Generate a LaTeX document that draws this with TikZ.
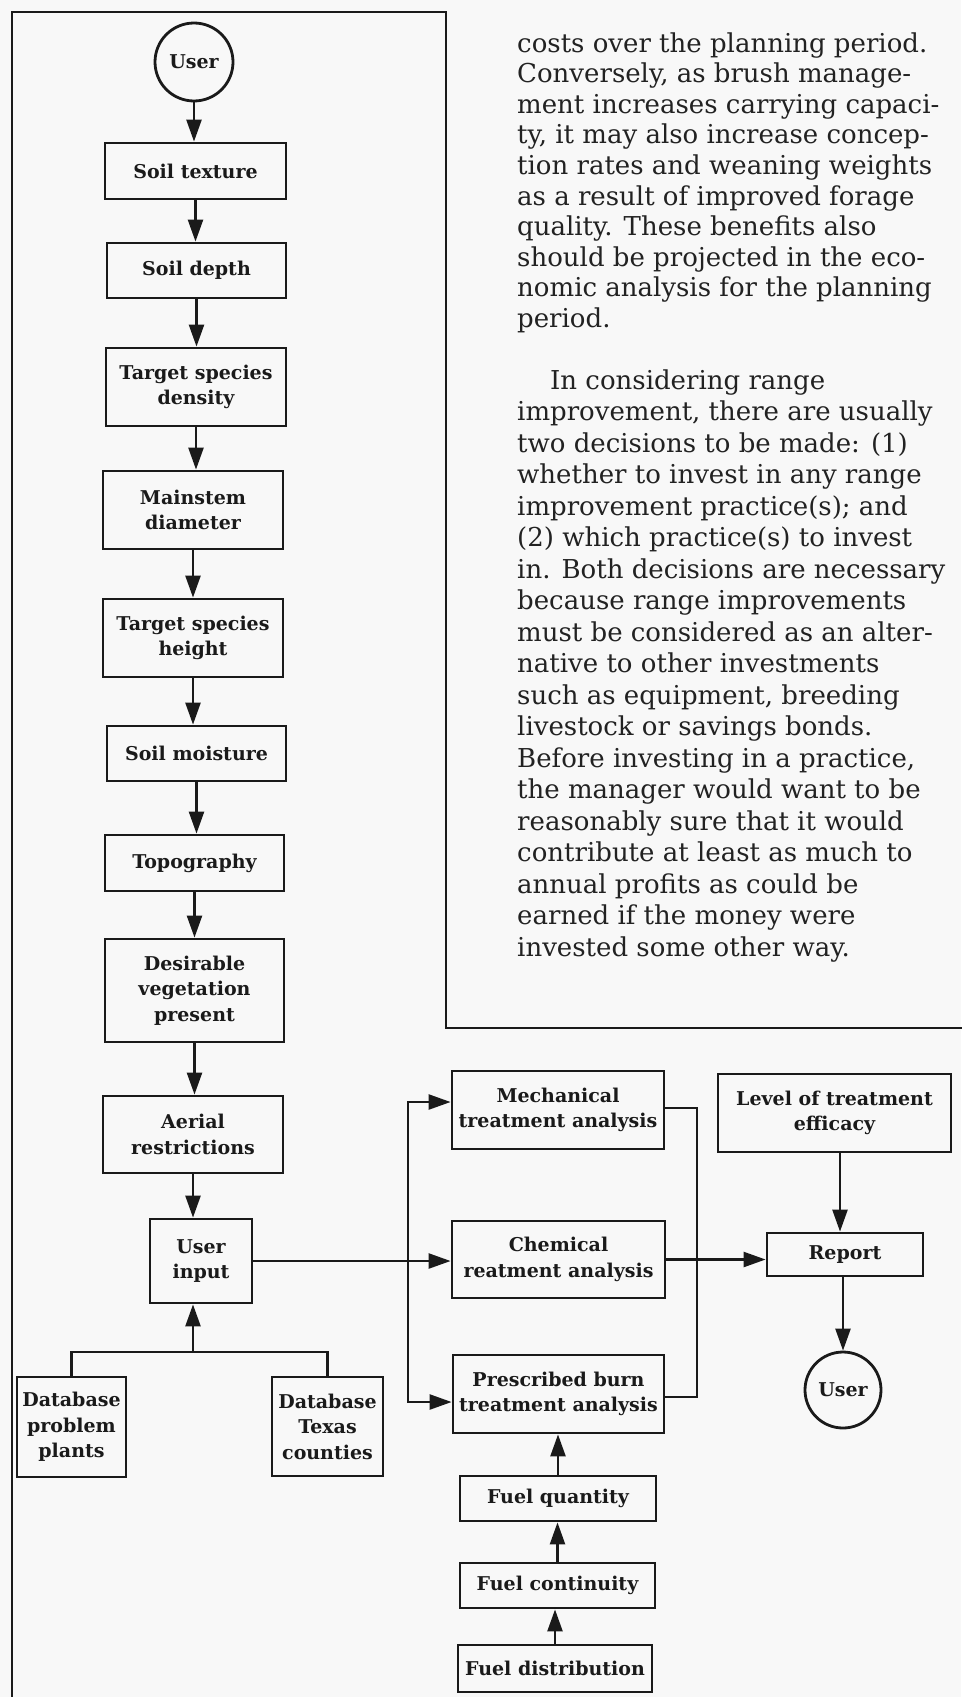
\documentclass[tikz,border=0pt]{standalone}
\usepackage{fontspec}
\setmainfont{DejaVu Serif}
\usetikzlibrary{arrows.meta,calc}
\definecolor{ink}{HTML}{1A1A1A}
\definecolor{txtc}{HTML}{222222}
\definecolor{paper}{HTML}{F8F8F8}
\begin{document}
\begin{tikzpicture}[x=1pt,y=-1pt,
  box/.style={draw=ink, line width=2.8pt, align=center, inner sep=0pt,
    font=\fontsize{19}{25.5}\selectfont\bfseries, text=ink},
  circ/.style={draw=ink, line width=2.8pt, circle, inner sep=0pt,
    font=\fontsize{19}{25.5}\selectfont\bfseries, text=ink},
  conn/.style={draw=ink, line width=2.4pt},
  arr/.style={conn, -{Triangle[length=22pt,width=15pt]}},
  barr/.style={conn, {Triangle[length=22pt,width=15pt]}-{Triangle[length=22pt,width=15pt]}},
  txt/.style={anchor=base west, inner sep=0pt, text=txtc,
    font=\fontsize{26}{31}\selectfont},
  frame/.style={draw=ink, line width=2.6pt}]
\useasboundingbox[fill=paper] (0,0) rectangle (961,1697);

% frame
\draw[frame] (12,1700) -- (12,12) -- (446,12) -- (446,1028) -- (965,1028);

% text column
\foreach \t [count=\i from 0] in {
  {costs over the planning period.},
  {Conversely, as brush manage-},
  {ment increases carrying capaci-},
  {ty, it may also increase concep-},
  {tion rates and weaning weights},
  {as a result of improved forage},
  {quality. These benefits also},
  {should be projected in the eco-},
  {nomic analysis for the planning},
  {period.}}
  \node[txt] (pa\i) at (517,{52+30.6*\i}) {\t};
\node[txt] (pb0) at (550,389) {In considering range};
\foreach \t [count=\i from 1] in {
  {improvement, there are usually},
  {two decisions to be made: (1)},
  {whether to invest in any range},
  {improvement practice(s); and},
  {(2) which practice(s) to invest},
  {in. Both decisions are necessary},
  {because range improvements},
  {must be considered as an alter-},
  {native to other investments},
  {such as equipment, breeding},
  {livestock or savings bonds.},
  {Before investing in a practice,},
  {the manager would want to be},
  {reasonably sure that it would},
  {contribute at least as much to},
  {annual profits as could be},
  {earned if the money were},
  {invested some other way.}}
  \node[txt] (pb\i) at (517,{389+31.5*\i}) {\t};

% left column
\node[circ, minimum size=78pt] (user1) at (194,62) {User};
\node[box, minimum width=181pt, minimum height=56pt] (soiltex) at (195.5,171) {Soil texture};
\node[box, minimum width=179pt, minimum height=55pt] (soildep) at (196.5,270.5) {Soil depth};
\node[box, minimum width=180pt, minimum height=78pt] (tsd) at (196,387) {Target species\\density};
\node[box, minimum width=180pt, minimum height=78pt] (mainst) at (193,510) {Mainstem\\diameter};
\node[box, minimum width=180pt, minimum height=78pt] (tsh) at (193,638) {Target species\\height};
\node[box, minimum width=179pt, minimum height=55pt] (soilmo) at (196.5,753.5) {Soil moisture};
\node[box, minimum width=179pt, minimum height=56pt] (topo) at (194.5,863) {Topography};
\node[box, minimum width=179pt, minimum height=103pt] (desveg) at (194.5,990.5) {Desirable\\vegetation\\present};
\node[box, minimum width=180pt, minimum height=77pt] (aerial) at (193,1134.5) {Aerial\\restrictions};
\node[box, minimum width=102pt, minimum height=84pt] (uinput) at (201,1261) {User\\input};
\node[box, minimum width=109pt, minimum height=100pt] (dbpp) at (71.5,1427) {Database\\problem\\plants};
\node[box, minimum width=111pt, minimum height=99pt] (dbtc) at (327.5,1426.5) {Database\\Texas\\counties};

% right part
\node[box, minimum width=212pt, minimum height=78pt] (mech) at (558,1110) {Mechanical\\treatment analysis};
\node[box, minimum width=213pt, minimum height=77pt] (chem) at (558.5,1259.5) {Chemical\\reatment analysis};
\node[box, minimum width=211pt, minimum height=78pt] (presc) at (558.5,1394) {Prescribed burn\\treatment analysis};
\node[box, minimum width=196pt, minimum height=45pt] (fuelq) at (558,1498.5) {Fuel quantity};
\node[box, minimum width=195pt, minimum height=45pt] (fuelc) at (557.5,1585.5) {Fuel continuity};
\node[box, minimum width=194pt, minimum height=47pt] (fueld) at (555,1668.5) {Fuel distribution};
\node[box, minimum width=233pt, minimum height=78pt] (level) at (834.5,1113) {Level of treatment\\efficacy};
\node[box, minimum width=156pt, minimum height=43pt] (report) at (845,1254.5) {Report};
\node[circ, minimum size=76pt] (user2) at (843,1390) {User};

% left chain
\foreach \a/\b in {user1/soiltex, soiltex/soildep, soildep/tsd, tsd/mainst,
  mainst/tsh, tsh/soilmo, soilmo/topo, topo/desveg, desveg/aerial, aerial/uinput}
  \draw[arr] (\a.south) -- (\a.south |- \b.north);

% databases
\coordinate (jn) at (193,1352);
\draw[conn] (dbpp.north) |- (jn) -| (dbtc.north);
\draw[arr] (jn) -- (jn |- uinput.south);

% user input to chemical
\draw[arr] (uinput.east) -- (uinput.east -| chem.west);

% bus to mechanical and prescribed
\coordinate (bt) at (408,1102);
\coordinate (bb) at (408,1402);
\draw[barr] (bt -| mech.west) -- (bt) -- (bb) -- (bb -| presc.west);

% mechanical / prescribed to report line
\coordinate (rt) at (697,1108);
\coordinate (rb) at (697,1397);
\draw[conn] (mech.east |- rt) -- (rt) -- (rb) -- (presc.east |- rb);
\draw[arr] (chem.east) -- (chem.east -| report.west);

% level -> report -> user
\coordinate (lv) at (840,1152);
\draw[arr] (lv) -- (lv |- report.north);
\draw[arr] (user2 |- report.south) -- (user2.north);

% fuel chain
\draw[arr] (fueld.north) -- (fueld.north |- fuelc.south);
\draw[arr] (fuelc.north) -- (fuelc.north |- fuelq.south);
\draw[arr] (fuelq.north) -- (fuelq.north |- presc.south);
\end{tikzpicture}
\end{document}
